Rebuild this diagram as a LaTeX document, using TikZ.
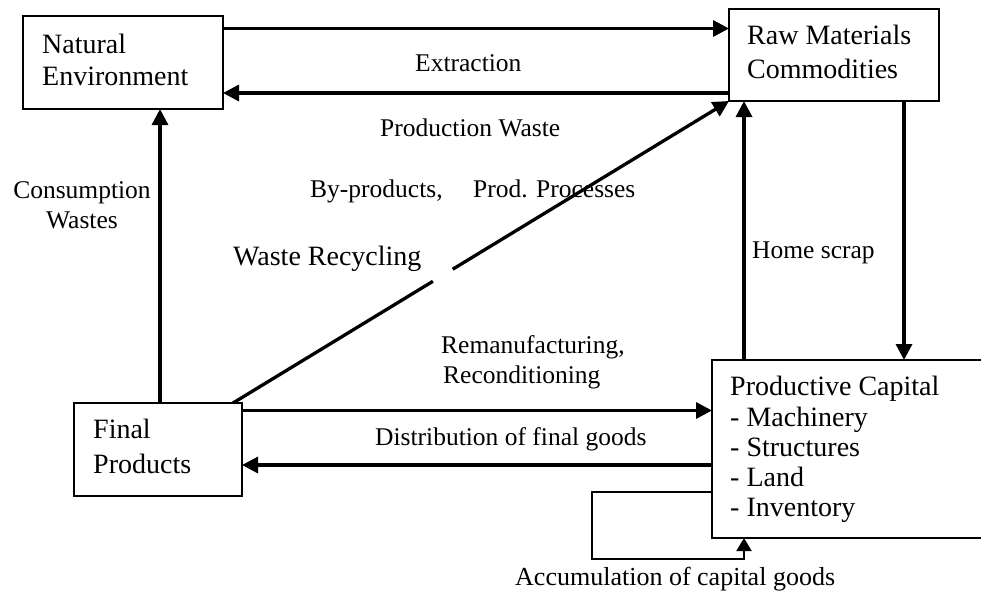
\documentclass[tikz,border=0pt]{standalone}
\usepackage{fontspec}
\setmainfont{Liberation Serif}
\usetikzlibrary{arrows.meta,calc}
\begin{document}
\begin{tikzpicture}[x=1pt,y=-1pt,
  box/.style={draw,line width=1.7pt,inner sep=0pt,outer sep=0pt,anchor=north west},
  boxtext/.style={inner sep=0pt,anchor=base west,font=\fontsize{28}{33}\selectfont},
  lbl/.style={inner sep=0pt,anchor=base west,font=\fontsize{25.5}{30}\selectfont},
  tip/.style={-{Triangle[length=16pt,width=16pt]}},
  flow/.style={line width=3.3pt,tip},
  plain/.style={line width=3.3pt},
  loopflow/.style={line width=2.2pt,-{Triangle[length=13pt,width=15pt]}}]
\useasboundingbox (0,0) rectangle (981,592);
\clip (0,0) rectangle (981,592);

% boxes
\node[box,minimum width=200pt,minimum height=93pt] (ne) at (23,16) {};
\node[box,minimum width=210pt,minimum height=92pt] (rm) at (729,9) {};
\node[box,minimum width=168pt,minimum height=93pt] (fp) at (74,403) {};
\node[box,minimum width=280pt,minimum height=178pt] (pc) at (712,360) {};

% box texts
\node[boxtext] (ne1) at (42,53) {Natural};
\node[boxtext] (ne2) at (42,85) {Environment};
\node[boxtext] (rm1) at (747,44) {Raw Materials};
\node[boxtext] (rm2) at (747,78) {Commodities};
\node[boxtext] (fp1) at (93,438) {Final};
\node[boxtext] (fp2) at (93,473) {Products};
\node[boxtext] (pc1) at (730,395) {Productive Capital};
\node[boxtext] (pc2) at (730,426) {- Machinery};
\node[boxtext] (pc3) at (730,456) {- Structures};
\node[boxtext] (pc4) at (730,486) {- Land};
\node[boxtext] (pc5) at (730,516) {- Inventory};

% guide levels for the connectors
\coordinate (ytop) at (0,28.5);
\coordinate (yret) at (0,93);
\coordinate (yfwd) at (0,410.5);
\coordinate (ydist) at (0,465);
\coordinate (yacc) at (0,492);
\coordinate (xcons) at (160,0);
\coordinate (xhome) at (744,0);
\coordinate (xdown) at (904,0);

% connectors
\draw[flow] (ne.east |- ytop) -- (rm.west |- ytop);
\draw[flow] (rm.west |- yret) -- (ne.east |- yret);
\draw[flow] (fp.north -| xcons) -- (ne.south -| xcons);
\draw[flow] (pc.north -| xhome) -- (rm.south -| xhome);
\draw[flow] (rm.south -| xdown) -- (pc.north -| xdown);
\draw[flow] (fp.east |- yfwd) -- (pc.west |- yfwd);
\draw[flow] (pc.west |- ydist) -- (fp.east |- ydist);
\draw[loopflow] (pc.west |- yacc) -- (592,492) -- (592,559) -- (744,559) -- (pc.south -| xhome);

% recycling diagonal, broken where its label sits
\coordinate (dstart) at ($(fp.north east)+(-9,0)$);
\draw[plain] (dstart) -- ($(dstart)!0.403!(rm.south west)$);
\draw[flow] ($(dstart)!0.443!(rm.south west)$) -- (rm.south west);

% flow labels
\node[lbl] (extr) at (415,71) {Extraction};
\node[lbl] (pwaste) at (380,136) {Production Waste};
\node[lbl] (byp) at (310,197) {By-products,};
\node[lbl] (procs) at (473,197) {Prod. Processes};
\node[lbl,anchor=base] (cons1) at (82,198) {Consumption};
\node[lbl,anchor=base] (cons2) at (82,228) {Wastes};
\node[boxtext] (wrec) at (233,265) {Waste Recycling};
\node[lbl] (home) at (752,258) {Home scrap};
\node[lbl] (reman) at (441,353) {Remanufacturing,};
\node[lbl] (recon) at (443,383) {Reconditioning};
\node[lbl] (distr) at (375,445) {Distribution of final goods};
\node[lbl,font=\fontsize{26}{30}\selectfont] (accum) at (515,585) {Accumulation of capital goods};
\end{tikzpicture}
\end{document}
